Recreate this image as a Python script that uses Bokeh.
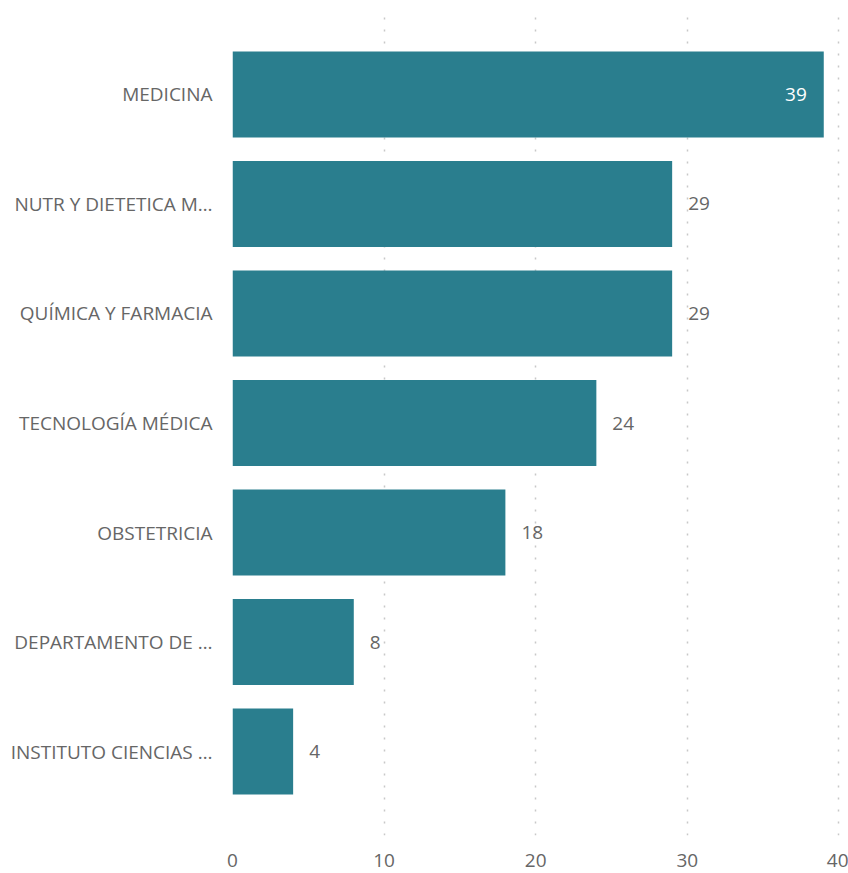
from bokeh.plotting import figure
from bokeh.models import ColumnDataSource, FactorRange, LabelSet, FixedTicker
from bokeh.core.properties import value
from bokeh.embed import file_html
from bokeh.resources import INLINE

categories = ["MEDICINA", "NUTR Y DIETETICA M…", "QUÍMICA Y FARMACIA", "TECNOLOGÍA MÉDICA",
              "OBSTETRICIA", "DEPARTAMENTO DE …", "INSTITUTO CIENCIAS …"]
values = [39, 29, 29, 24, 18, 8, 4]
x_ticks = [0, 10, 20, 30, 40]

BAR = "#2a7e8e"
TXT = "#666666"
FONT = "Open Sans"
FS = "19px"

inside = [v >= 35 for v in values]
src = ColumnDataSource(dict(
    cat=categories,
    val=values,
    lab_in=[str(v) if i else "" for v, i in zip(values, inside)],
    lab_out=[str(v) if not i else "" for v, i in zip(values, inside)],
))

yr = FactorRange(factors=categories[::-1], range_padding=0.267, range_padding_units="absolute")

p = figure(y_range=yr, x_range=(0, 40.5), frame_width=614, frame_height=825,
           output_backend="svg", toolbar_location=None,
           min_border_left=232, min_border_top=10, min_border_right=2, min_border_bottom=0)

p.hbar(y="cat", right="val", left=0, height=0.785, source=src, color=BAR, line_color=None)

p.add_layout(LabelSet(x="val", y="cat", text="lab_in", source=src, x_offset=-17,
                      text_align="right", text_baseline="middle", text_color="white",
                      text_font=value(FONT), text_font_size=FS))
p.add_layout(LabelSet(x="val", y="cat", text="lab_out", source=src, x_offset=16,
                      text_align="left", text_baseline="middle", text_color=TXT,
                      text_font=value(FONT), text_font_size=FS))

p.xaxis.ticker = FixedTicker(ticks=x_ticks)
p.xgrid.ticker = FixedTicker(ticks=x_ticks)
p.xgrid.grid_line_color = "#c8c8c8"
p.xgrid.grid_line_dash = "2 10"
p.xgrid.grid_line_width = 1.5
p.ygrid.grid_line_color = None

for ax in (p.xaxis, p.yaxis):
    ax.axis_line_color = None
    ax.major_tick_line_color = None
    ax.minor_tick_line_color = None
    ax.major_label_text_color = TXT
    ax.major_label_text_font = FONT
    ax.major_label_text_font_size = FS
p.xaxis.major_label_standoff = 12
p.yaxis.major_label_standoff = 14
p.outline_line_color = None
p.background_fill_color = "white"
p.border_fill_color = "white"

open("out.html", "w").write(file_html(p, INLINE))
